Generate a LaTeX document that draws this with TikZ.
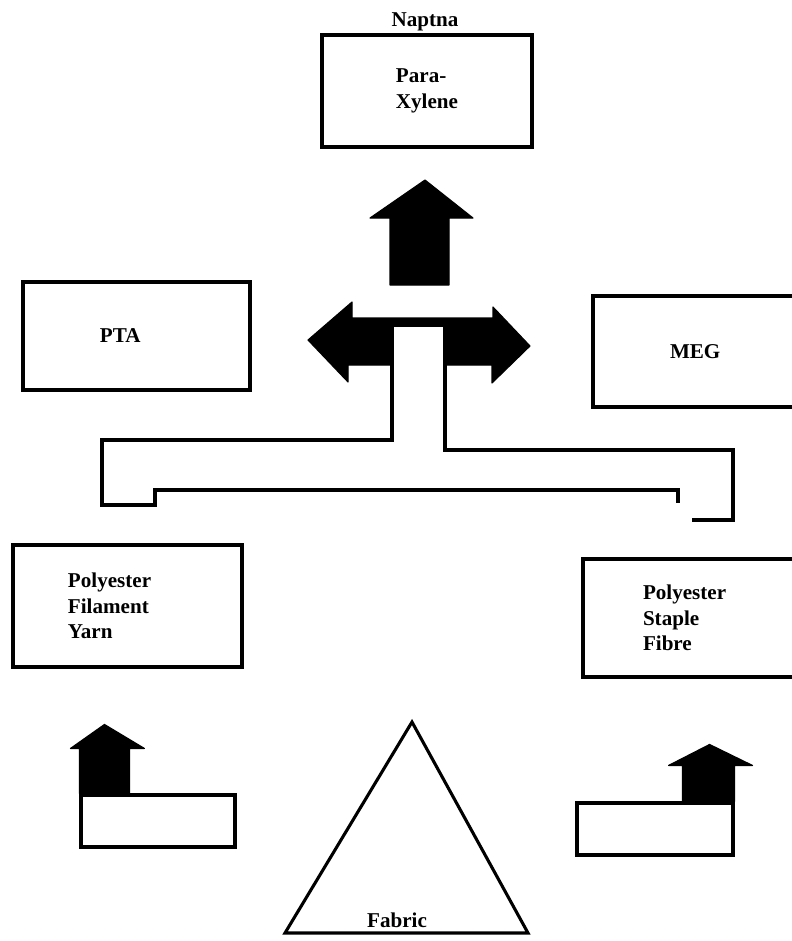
\documentclass[tikz,border=0pt]{standalone}
\usepackage{fontspec}
\setmainfont{Liberation Serif}
\usepackage{tikz}
\usetikzlibrary{calc}
\tikzset{
  chainbox/.style={rectangle,draw=black,line width=2.2pt,fill=white,
    font=\bfseries\fontsize{15}{18}\selectfont,align=left,inner ysep=0pt},
  chainlabel/.style={font=\bfseries\fontsize{15}{18}\selectfont,inner sep=0pt},
  blockarr/.style={fill=black,draw=black,line width=0.8pt,line join=round},
  pipe/.style={draw=black,line width=2.2pt,line join=miter},
}

\begin{document}
\begin{tikzpicture}[x=0.25mm,y=-0.25mm]
  \useasboundingbox (0,0) rectangle (792,941);

  \node[chainlabel] (naptna) at (425,22) {Naptna};
  \node[chainbox,minimum width=52.5mm,minimum height=28mm] (px) at (427,91) {Para-\\Xylene};
  \node[chainbox,text width=18.25mm,inner xsep=19.25mm,minimum height=27mm] (pta) at (136.5,336) {PTA};
  \node[chainbox,text width=13.25mm,inner xsep=19.25mm,minimum height=27.75mm] (meg) at (696.5,351.5) {MEG};
  \node[chainbox,text width=29.75mm,inner xsep=13.75mm,minimum height=30.5mm] (pfy) at (127.5,606) {Polyester\\Filament\\Yarn};
  \node[chainbox,text width=24.25mm,inner xsep=15mm,minimum height=29.5mm] (psf) at (691.5,618) {Polyester\\Staple\\Fibre};
  \node[chainbox,minimum width=38.5mm,minimum height=13mm] (pfyreel) at (158,821) {};
  \node[chainbox,minimum width=39mm,minimum height=13mm] (psfreel) at (655,829) {};

  % central block arrows
  \fill[blockarr] (390,285) -- (390,218) -- (370,218) -- (425,180) -- (473,218)
    -- (449,218) -- (449,285) -- cycle;
  \fill[blockarr] (308,340) -- (352,302) -- (352,318) -- (493,318) -- (493,307)
    -- (530,346) -- (492,383) -- (492,365) -- (445,365) -- (445,325) -- (392,325)
    -- (392,365) -- (348,365) -- (348,382) -- cycle;
  \draw[pipe] (692,520) -- (733,520) -- (733,450) -- (445,450) -- (445,325)
    -- (392,325) -- (392,440) -- (102,440) -- (102,505) -- (155,505)
    -- (155,490) -- (678,490) -- (678,503);

  % small arrows on the reels
  \fill[blockarr] (pfyreel.north west) -- ++(0,-45) -- ++(-9,0) -- ++(34,-24)
    -- ++(40,24) -- ++(-15,0) -- ++(0,45) -- cycle;
  \fill[blockarr] (psfreel.north east) -- ++(0,-36) -- ++(18,0) -- ++(-43,-21)
    -- ++(-41,21) -- ++(14,0) -- ++(0,36) -- cycle;

  \coordinate (apex) at (412,722);
  \draw[pipe] (apex) -- (528,933) -- (285,933) -- cycle;
  \node[chainlabel] (fabric) at (397,920) {Fabric};
\end{tikzpicture}
\end{document}
